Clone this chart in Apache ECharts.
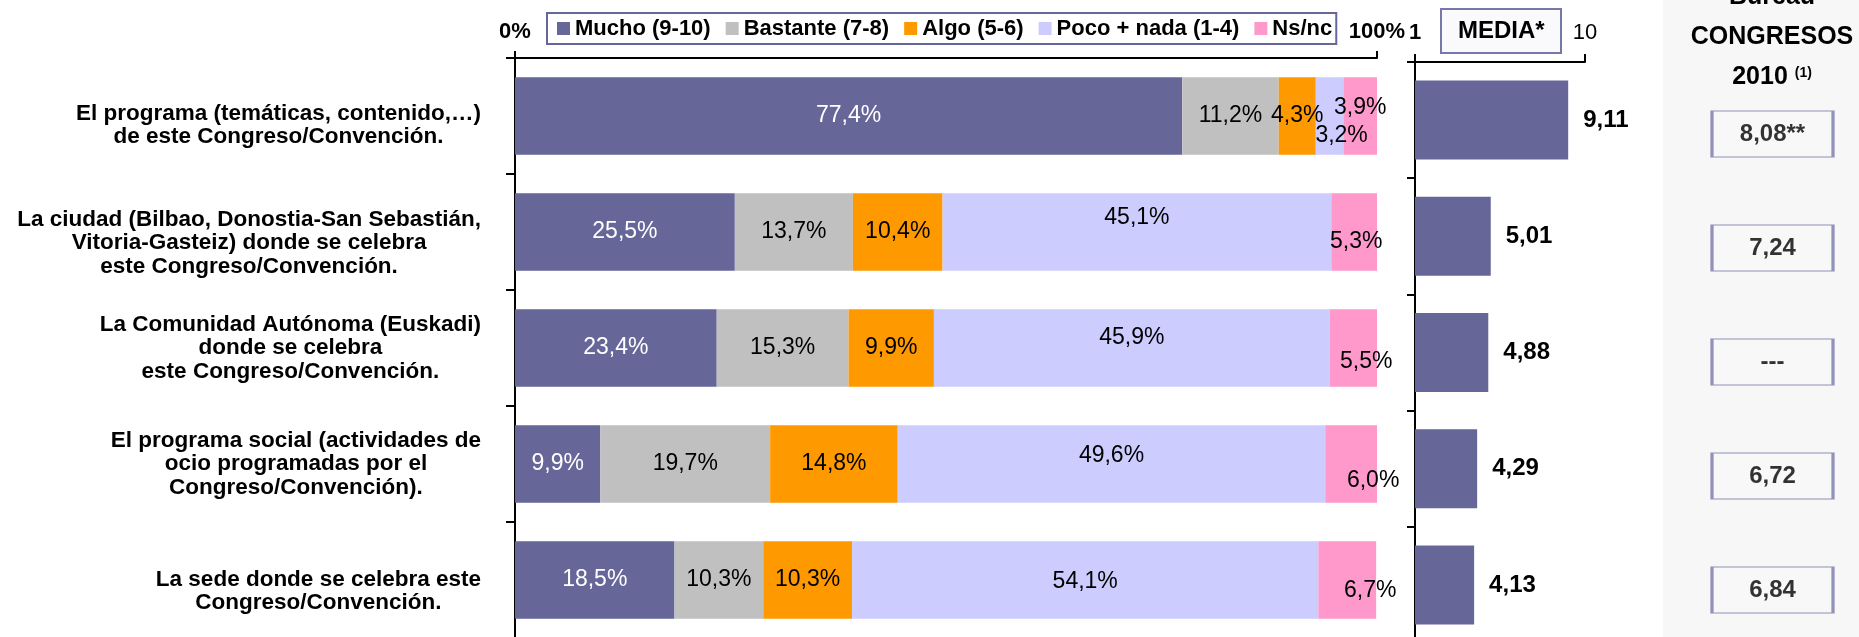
<!DOCTYPE html>
<html>
<head>
<meta charset="utf-8">
<script src="https://cdn.jsdelivr.net/npm/echarts@6/dist/echarts.min.js"></script>
<style>
html, body { margin: 0; padding: 0; background: #fff; }
#chart { width: 1859px; height: 637px; }
</style>
</head>
<body>
<div id="chart"></div>
<script>
// ---------------- datos ----------------
var categories = [
    'El programa (temáticas, contenido,…)\nde este Congreso/Convención.',
    'La ciudad (Bilbao, Donostia-San Sebastián,\nVitoria-Gasteiz) donde se celebra\neste Congreso/Convención.',
    'La Comunidad Autónoma (Euskadi)\ndonde se celebra\neste Congreso/Convención.',
    'El programa social (actividades de\nocio programadas por el\nCongreso/Convención).',
    'La sede donde se celebra este\nCongreso/Convención.'
];
var seriesNames = ['Mucho (9-10)', 'Bastante (7-8)', 'Algo (5-6)', 'Poco + nada (1-4)', 'Ns/nc'];
var mucho    = [77.4, 25.5, 23.4, 9.9, 18.5];
var bastante = [11.2, 13.7, 15.3, 19.7, 10.3];
var algo     = [4.3, 10.4, 9.9, 14.8, 10.3];
var poco     = [3.2, 45.1, 45.9, 49.6, 54.1];
var nsnc     = [3.9, 5.3, 5.5, 6.0, 6.7];
var media    = [9.11, 5.01, 4.88, 4.29, 4.13];
var bureau   = ['8,08**', '7,24', '---', '6,72', '6,84'];
var pctTicks = [0, 100];
var mediaTicks = [1, 10];

// desplazamientos de etiquetas (como en el original)
var pocoShift = [[12, 20], [0, -14], [0, -10], [0, -8], [0, 2]];
var nsShift = [[0, -8], [2, 10], [13, 14], [22, 17], [23, 11]];
var catLabelDrop = [9, 11, 0, 0, 11];

var colors = ['#666699', '#C0C0C0', '#FF9900', '#CCCCFF', '#FF99CC'];
var FONT = 'Liberation Sans, Arial, sans-serif';

function pct(v) {
    return v.toFixed(1).replace('.', ',') + '%';
}

function stackSeries(idx, values, textColor, shifts) {
    return {
        name: seriesNames[idx],
        type: 'bar',
        stack: 'total',
        xAxisIndex: 0,
        yAxisIndex: 0,
        barCategoryGap: '33%',
        itemStyle: { color: colors[idx] },
        data: values.map(function (v, i) {
            var item = { value: v };
            if (shifts) item.label = { offset: shifts[i] };
            return item;
        }),
        label: {
            show: true,
            position: 'inside',
            color: textColor,
            textBorderWidth: 0,
            fontFamily: FONT,
            fontSize: 23,
            formatter: function (p) { return pct(p.value); }
        }
    };
}

// estilos rich: lineas centradas, primera linea mas alta para bajar el bloque
var catRich = {};
categories.forEach(function (c, i) {
    var base = { align: 'center', fontFamily: FONT, fontSize: 22.5, fontWeight: 'bold', color: '#000', lineHeight: 24 };
    catRich['c' + i] = base;
    catRich['f' + i] = Object.assign({}, base, { lineHeight: 24 + catLabelDrop[i] * 2, verticalAlign: 'bottom' });
});

var chart = echarts.init(document.getElementById('chart'));

var option = {
    backgroundColor: '#fff',
    animation: false,
    textStyle: { fontFamily: FONT },
    title: {
        text: 'MEDIA*',
        left: 1441,
        top: 9,
        padding: [10, 17, 10, 17],
        borderColor: '#7777aa',
        borderWidth: 2,
        backgroundColor: '#fafafc',
        textStyle: { fontFamily: FONT, fontSize: 24, fontWeight: 'bold', color: '#000', lineHeight: 24 }
    },
    graphic: [
        {
            type: 'rect', z: -10, silent: true,
            shape: { x: 1663, y: 0, width: 196, height: 637 },
            style: { fill: '#f7f7f7' }
        },
        {
            type: 'text', z: 10, x: 1772, y: -23,
            style: {
                text: '{b|Bureau}\n{b|CONGRESOS}\n{b|2010 }{s|(1)}',
                align: 'center',
                verticalAlign: 'top',
                fill: '#000',
                rich: {
                    b: { fontFamily: FONT, fontSize: 25, fontWeight: 'bold', lineHeight: 40, fill: '#000' },
                    s: { fontFamily: FONT, fontSize: 14, fontWeight: 'bold', lineHeight: 40, padding: [0, 0, 8, 0], fill: '#000' }
                }
            }
        }
    ],
    legend: {
        data: seriesNames,
        left: 547,
        top: 13,
        padding: [4, 4, 4, 10],
        itemGap: 15,
        itemWidth: 13,
        itemHeight: 13,
        icon: 'rect',
        borderColor: '#666699',
        borderWidth: 2,
        selectedMode: false,
        textStyle: { fontFamily: FONT, fontSize: 22, fontWeight: 'bold', color: '#000', lineHeight: 23 }
    },
    grid: [
        { left: 515, top: 58, width: 862, height: 580, outerBoundsMode: 'none' },
        { left: 1415, top: 62, width: 170, height: 581, outerBoundsMode: 'none' },
        { left: 1712, top: 77, width: 121, height: 570, outerBoundsMode: 'none' }
    ],
    xAxis: [
        {
            gridIndex: 0, type: 'value', position: 'top',
            min: pctTicks[0], max: pctTicks[1], interval: pctTicks[1] - pctTicks[0],
            axisLine: { show: true, lineStyle: { color: '#000', width: 2 } },
            axisTick: { show: true, length: 7, lineStyle: { color: '#000', width: 2 } },
            splitLine: { show: false },
            axisLabel: {
                margin: 15, fontFamily: FONT, fontSize: 22, fontWeight: 'bold', color: '#000',
                formatter: '{value}%'
            }
        },
        {
            gridIndex: 1, type: 'value', position: 'top',
            min: mediaTicks[0], max: mediaTicks[1], interval: mediaTicks[1] - mediaTicks[0],
            axisLine: { show: true, lineStyle: { color: '#000', width: 2 } },
            axisTick: { show: true, length: 8, lineStyle: { color: '#000', width: 2 } },
            splitLine: { show: false },
            axisLabel: {
                margin: 18, fontFamily: FONT, fontSize: 22, color: '#000',
                formatter: function (v) { return v === mediaTicks[0] ? '{b|' + v + '}' : String(v); },
                rich: { b: { fontFamily: FONT, fontSize: 22, fontWeight: 'bold', color: '#000' } }
            }
        },
        {
            gridIndex: 2, type: 'category', data: ['2010'], show: false
        }
    ],
    yAxis: [
        {
            gridIndex: 0, type: 'category', inverse: true, data: categories,
            axisLine: { show: true, lineStyle: { color: '#000', width: 2 } },
            axisTick: { show: true, length: 9, lineStyle: { color: '#000', width: 2 } },
            axisLabel: {
                margin: 34,
                fontFamily: FONT, fontSize: 22.5, fontWeight: 'bold', color: '#000', lineHeight: 24,
                formatter: function (v, idx) {
                    return v.split('\n').map(function (l, k) {
                        return '{' + (k === 0 ? 'f' : 'c') + idx + '|' + l + '}';
                    }).join('\n');
                },
                rich: catRich
            }
        },
        {
            gridIndex: 1, type: 'category', inverse: true, data: categories,
            axisLine: { show: true, lineStyle: { color: '#000', width: 2 } },
            axisTick: { show: true, length: 8, lineStyle: { color: '#000', width: 2 } },
            axisLabel: { show: false }
        },
        {
            gridIndex: 2, type: 'category', inverse: true, data: categories, show: false
        }
    ],
    series: [
        stackSeries(0, mucho, '#fff', null),
        stackSeries(1, bastante, '#000', null),
        stackSeries(2, algo, '#000', null),
        stackSeries(3, poco, '#000', pocoShift),
        stackSeries(4, nsnc, '#000', nsShift),
        {
            name: 'MEDIA',
            type: 'bar',
            xAxisIndex: 1,
            yAxisIndex: 1,
            barCategoryGap: '32%',
            itemStyle: { color: '#666699' },
            data: media,
            label: {
                show: true,
                position: 'right',
                distance: 15,
                fontFamily: FONT, fontSize: 24, fontWeight: 'bold', color: '#000',
                formatter: function (p) { return p.value.toFixed(2).replace('.', ','); }
            }
        },
        {
            name: 'Bureau',
            type: 'scatter',
            xAxisIndex: 2,
            yAxisIndex: 2,
            symbol: 'rect',
            symbolSize: [121, 46],
            itemStyle: { color: '#f7f7f7', borderColor: '#7777aa', borderWidth: 2 },
            data: bureau.map(function (t, i) { return { name: t, value: ['2010', categories[i]] }; }),
            label: {
                show: true,
                position: 'inside',
                fontFamily: FONT, fontSize: 24, fontWeight: 'bold', color: '#000',
                formatter: function (p) { return p.name; }
            }
        }
    ]
};

chart.setOption(option);
</script>
</body>
</html>
